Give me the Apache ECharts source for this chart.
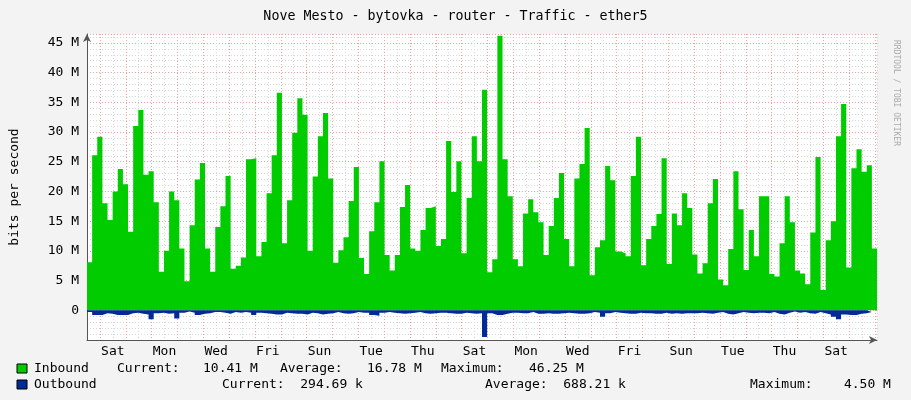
<!DOCTYPE html>
<html><head><meta charset="utf-8">
<script src="https://cdn.jsdelivr.net/npm/echarts@6/dist/echarts.min.js"></script>
<style>html,body{margin:0;padding:0;background:#f3f3f3}#c{width:911px;height:400px}</style>
</head><body><div id="c"></div>
<script>
// Inbound traffic in Mbit/s, one value per ~4.8 h step
const inbound = [
8.1,26.1,29.2,18,15.2,20,23.8,21.2,13.2,31,33.7,22.8,23.4,18.2,6.5,10,20,18.5,10.4,4.9,14.3,22,24.8,10.4,6.5,14,17.5,22.6,7,7.5,8.9,25.4,25.6,9.1,11.5,19.7,26.1,36.6,11.3,18.5,
29.9,35.7,32.9,10,22.5,29.3,33.2,22.2,8,10.1,12.3,18.4,24.1,8.8,6.1,13.3,18.2,25.1,9.3,6.7,9.3,17.4,21.1,10.4,10,13.5,17.2,17.5,10.8,12,28.5,19.9,25.1,9.6,18.9,29.3,25.1,37.1,
6.4,8.6,46.2,25.4,19.2,8.6,7.4,16.3,18.7,16.5,14.8,9.3,14.2,18.9,23.1,12,7.4,22.2,24.6,30.7,5.9,10.6,11.8,24.3,21.9,9.9,9.6,9.1,22.6,29.2,7.6,12,14.2,16.2,25.6,7.8,16.3,14.3,19.7,17.2,
9.4,6.2,7.9,18,22.1,5.2,4.2,10.3,23.4,17,6.8,13.5,9.1,19.2,19.2,6.1,5.7,11.3,19.2,14.8,6.7,6.2,4.4,13.1,25.8,3.4,11.8,15,29.3,34.7,7.2,23.9,27.1,23.3,24.4,10.4];
// Outbound traffic in Mbit/s (drawn below zero)
const outbound = [
0.3,0.8,0.8,0.5,0.6,0.8,0.8,0.8,0.5,0.4,0.6,0.7,1.5,0.5,0.4,0.6,0.5,1.4,0.4,0.2,0.4,0.8,0.6,0.5,0.3,0.3,0.4,0.6,0.3,0.4,0.3,0.4,0.8,0.4,0.5,0.6,0.7,0.7,0.4,0.5,
0.6,0.6,0.7,0.4,0.5,0.7,0.6,0.5,0.3,0.5,0.6,0.5,0.3,0.4,0.4,0.8,0.9,0.4,0.3,0.4,0.5,0.6,0.5,0.4,0.3,0.5,0.6,0.5,0.4,0.4,0.5,0.6,0.6,0.4,0.5,0.6,0.5,4.5,
0.5,0.8,0.8,0.6,0.4,0.4,0.5,0.5,0.3,0.6,0.6,0.5,0.6,0.6,0.5,0.4,0.5,0.6,0.6,0.5,0.3,0.4,1.1,0.5,0.3,0.4,0.5,0.6,0.6,0.4,0.5,0.5,0.6,0.6,0.4,0.6,0.5,0.6,0.5,
0.5,0.5,0.4,0.5,0.6,0.4,0.3,0.6,0.7,0.5,0.3,0.4,0.5,0.4,0.4,0.5,0.3,0.6,0.7,0.4,0.2,0.4,0.3,0.5,0.6,0.3,0.5,0.7,1.1,1.5,0.7,0.8,0.8,0.6,0.5,0.3];
const dayNames = ['Sat','Sun','Mon','Tue','Wed','Thu','Fri'];
const SPAN = 30.58; // days covered by the plot
const step = SPAN / inbound.length;
function toSeries(arr, sign){
  const d = arr.map((v,i)=>[i*step, sign*v]);
  d.push([arr.length*step, sign*arr[arr.length-1]]);
  return d;
}
const chart = echarts.init(document.getElementById('c'));
const mono = 'DejaVu Sans Mono';
const FS = 13;
function t(x,y,s){return {type:'text',x:x,y:y,style:{text:s,fontFamily:mono,fontSize:FS,fill:'#000'}};}
chart.setOption({
  backgroundColor:'#f3f3f3',
  animation:false,
  title:{text:'Nove Mesto - bytovka - router - Traffic - ether5',left:'center',top:5,
    textStyle:{fontFamily:mono,fontSize:13.3,fontWeight:'normal',color:'#000'}},
  grid:{left:81,right:34,top:34,bottom:60,show:true,backgroundColor:'#fff',borderWidth:0},
  xAxis:{type:'value',min:0,max:SPAN,interval:0.5,
    axisLine:{onZero:false,lineStyle:{color:'#555'},symbol:['none','arrow'],symbolSize:[6,8]},
    axisTick:{show:false},
    axisLabel:{fontFamily:mono,fontSize:FS,color:'#000',margin:5,
      formatter:v=>{const r=Math.round(v*2); if(r%4!==2) return ''; return dayNames[((r-2)/2)%7];}},
    splitLine:{show:true,lineStyle:{type:[1,2],color:['#d8d8d8','#f2a0a0']}}},
  yAxis:{type:'value',min:-5,max:46.5,interval:5,
    axisLine:{show:true,lineStyle:{color:'#555'},symbol:['none','arrow'],symbolSize:[6,8]},
    axisTick:{show:false},
    axisLabel:{fontFamily:mono,fontSize:FS,color:'#000',margin:8,
      formatter:v=>v<0||v>45?'':(v===0?'0':v+' M')},
    splitLine:{lineStyle:{type:[1,2],color:'#f2a0a0'}},
    minorTick:{show:false,splitNumber:5},
    minorSplitLine:{show:true,lineStyle:{type:[1,2],color:'#d8d8d8'}},
    name:'bits per second',nameLocation:'middle',nameGap:66,nameRotate:90,
    nameTextStyle:{fontFamily:mono,fontSize:FS,color:'#000'}},
  series:[
    {type:'line',step:'end',symbol:'none',data:toSeries(inbound,1),
      lineStyle:{width:0},areaStyle:{color:'#00cc00',opacity:1},z:3},
    {type:'line',step:'end',symbol:'none',data:toSeries(outbound,-1),
      lineStyle:{width:0},areaStyle:{color:'#002a97',opacity:1},z:3}
  ],
  graphic:[
    {type:'text',x:900,y:40,rotation:-Math.PI/2,style:{text:'RRDTOOL / TOBI OETIKER',fontFamily:mono,fontSize:8,fill:'#aaa'}},
    {type:'rect',shape:{x:17,y:364,width:10,height:9},style:{fill:'#00cc00',stroke:'#000',lineWidth:1}},
    {type:'rect',shape:{x:17,y:380,width:10,height:9},style:{fill:'#002a97',stroke:'#000',lineWidth:1}},
    t(34,362,'Inbound'),t(117,362,'Current:'),t(203,362,'10.41 M'),t(280,362,'Average:'),
    t(367,362,'16.78 M'),t(441,362,'Maximum:'),t(529,362,'46.25 M'),
    t(34,378,'Outbound'),t(222,378,'Current:  294.69 k'),t(485,378,'Average:  688.21 k'),t(750,378,'Maximum:    4.50 M')
  ]
});
</script></body></html>
